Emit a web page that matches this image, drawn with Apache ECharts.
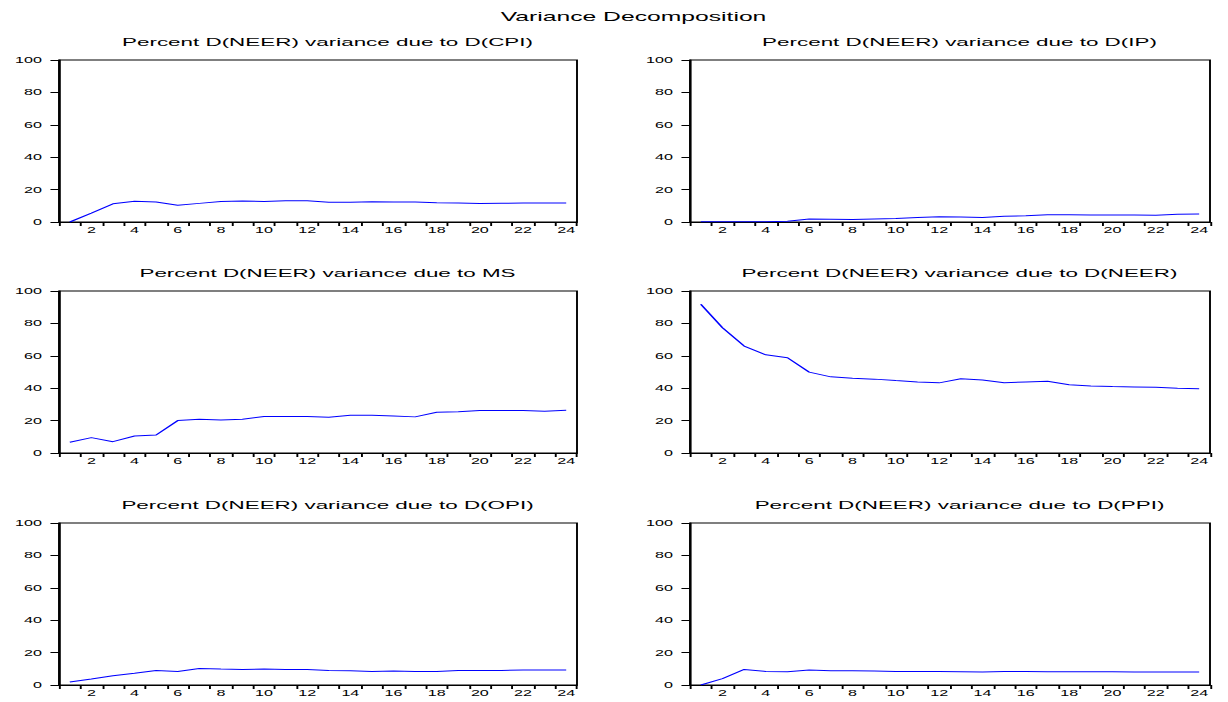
<!DOCTYPE html>
<html>
<head>
<meta charset="utf-8">
<script src="https://cdn.jsdelivr.net/npm/echarts@6/dist/echarts.min.js"></script>
<style>
html,body{margin:0;padding:0;background:#fff;overflow:hidden;}
#wrap{width:1228px;height:702px;overflow:hidden;position:relative;}
#chart{height:702px;transform-origin:0 0;position:absolute;left:0;top:0;}
</style>
</head>
<body>
<div id="wrap"><div id="chart"></div></div>
<script>
const periods = ['1','2','3','4','5','6','7','8','9','10','11','12','13','14','15','16','17','18','19','20','21','22','23','24'];
const yTicks = [0, 20, 40, 60, 80, 100];
const mainTitle = 'Variance Decomposition';
const panelTitles = [
  'Percent D(NEER) variance due to D(CPI)',
  'Percent D(NEER) variance due to D(IP)',
  'Percent D(NEER) variance due to MS',
  'Percent D(NEER) variance due to D(NEER)',
  'Percent D(NEER) variance due to D(OPI)',
  'Percent D(NEER) variance due to D(PPI)'
];
const cpi  = [0, 5.5, 11.2, 12.8, 12.3, 10.3, 11.5, 12.6, 13.0, 12.6, 13.1, 13.1, 12.2, 12.2, 12.5, 12.3, 12.4, 11.9, 11.7, 11.4, 11.6, 11.7, 11.8, 11.8];
const ip   = [0.1, 0.2, 0.2, 0.2, 0.5, 1.8, 1.7, 1.6, 1.9, 2.1, 2.8, 3.3, 3.1, 2.8, 3.6, 3.8, 4.5, 4.4, 4.3, 4.3, 4.3, 4.2, 4.8, 5.0];
const ms   = [6.6, 9.5, 7.0, 10.5, 11.1, 20.0, 20.8, 20.4, 20.8, 22.5, 22.5, 22.5, 22.1, 23.3, 23.3, 22.9, 22.3, 25.2, 25.4, 26.2, 26.2, 26.2, 25.8, 26.4];
const neer = [91.8, 77.3, 66.0, 60.6, 58.8, 49.9, 47.0, 46.2, 45.6, 44.7, 43.9, 43.3, 45.8, 45.0, 43.3, 43.9, 44.3, 42.1, 41.4, 41.0, 40.8, 40.6, 40.0, 39.6];
const opi  = [1.8, 3.7, 5.7, 7.3, 9.0, 8.4, 10.2, 9.8, 9.6, 9.8, 9.6, 9.6, 9.0, 8.8, 8.4, 8.6, 8.4, 8.4, 9.0, 9.0, 9.0, 9.2, 9.2, 9.2];
const ppi  = [0, 3.9, 9.6, 8.4, 8.2, 9.2, 8.8, 8.8, 8.6, 8.4, 8.4, 8.4, 8.2, 8.0, 8.4, 8.4, 8.2, 8.2, 8.2, 8.2, 8.0, 8.0, 8.0, 8.0];
const seriesData = [cpi, ip, ms, neer, opi, ppi];

// The reference picture is stretched horizontally; draw narrower and stretch.
const S = 1.9;
const W = 1228 / S;
const el = document.getElementById('chart');
el.style.width = W + 'px';
el.style.transform = 'scaleX(' + S + ')';

const FONT = 'Liberation Sans, Arial, sans-serif';
const colLeft = [59 / S, 690 / S];
const colWidth = [518 / S, 520 / S];
const rowTop = [60, 291, 523];
const plotH = 162;

const grids = [], xAxes = [], yAxes = [], series = [], titles = [];
titles.push({
  text: mainTitle, left: 624 / S, top: 5, textAlign: 'center',
  textStyle: {fontFamily: FONT, fontSize: 13, fontWeight: 'normal', color: '#000'}
});
for (let i = 0; i < 6; i++) {
  const c = i % 2, r = Math.floor(i / 2);
  grids.push({left: colLeft[c], top: rowTop[r], width: colWidth[c], height: plotH,
    show: true, borderColor: '#000', borderWidth: 1, backgroundColor: '#fff', containLabel: false});
  titles.push({
    text: panelTitles[i], left: colLeft[c] + colWidth[c] / 2, top: rowTop[r] - 29, textAlign: 'center',
    textStyle: {fontFamily: FONT, fontSize: 11.8, fontWeight: 'normal', color: '#000'}
  });
  xAxes.push({
    type: 'category', gridIndex: i, data: periods, boundaryGap: true,
    axisLine: {show: true, lineStyle: {color: '#000', width: 1}},
    axisTick: {show: true, interval: 0, length: 4, lineStyle: {color: '#000'}},
    axisLabel: {interval: 0, margin: 4, fontFamily: FONT, fontSize: 8.5, color: '#000',
      formatter: v => (parseInt(v) % 2 === 0 ? v : '')},
    splitLine: {show: false}
  });
  yAxes.push({
    type: 'value', gridIndex: i, min: yTicks[0], max: yTicks[yTicks.length - 1], interval: 20,
    axisLine: {show: true, lineStyle: {color: '#000', width: 1}},
    axisTick: {show: true, length: 4.5, lineStyle: {color: '#000'}},
    axisLabel: {margin: 9, fontFamily: FONT, fontSize: 8.5, color: '#000'},
    splitLine: {show: false}
  });
  series.push({
    type: 'line', xAxisIndex: i, yAxisIndex: i, data: seriesData[i],
    symbol: 'none', showSymbol: false,
    lineStyle: {color: '#0000ff', width: 1}, itemStyle: {color: '#0000ff'}
  });
}

const chart = echarts.init(el, null, {renderer: 'svg', width: W, height: 702});
chart.setOption({
  animation: false,
  backgroundColor: '#fff',
  title: titles,
  grid: grids,
  xAxis: xAxes,
  yAxis: yAxes,
  series: series
});
</script>
</body>
</html>
